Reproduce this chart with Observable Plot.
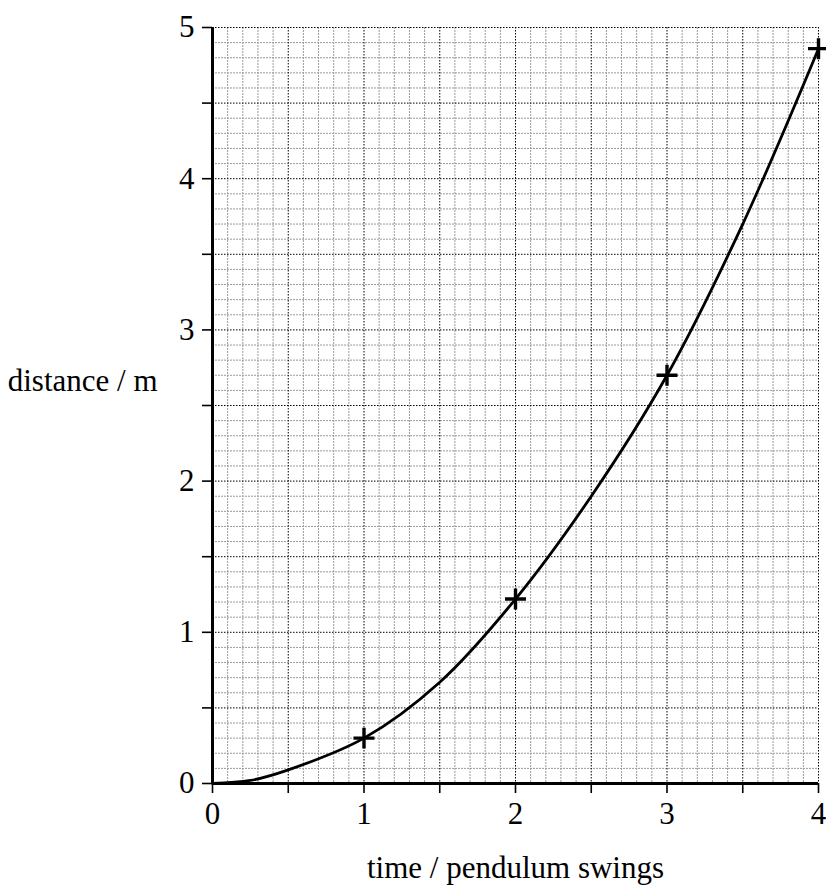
<!DOCTYPE html>
<html>
<head>
<meta charset="utf-8">
<script src="https://cdn.jsdelivr.net/npm/d3@7"></script>
<script src="https://cdn.jsdelivr.net/npm/@observablehq/plot@0.6"></script>
<style>
  html, body { margin: 0; padding: 0; background: #fff; }
  #chart svg, #chart svg text { font-family: "Liberation Serif", "Times New Roman", serif !important; }
  #chart svg [aria-label^="x-axis"] text, #chart svg [aria-label^="y-axis"] text { font-size: 31px; }
  #chart svg [aria-label^="x-axis"] line, #chart svg [aria-label^="x-axis"] path,
  #chart svg [aria-label^="y-axis"] line, #chart svg [aria-label^="y-axis"] path { stroke-width: 1.6px; }
</style>
</head>
<body>
<div id="chart"></div>
<script>
// Measured points (crosses)
const pointTime = [1, 2, 3, 4];
const pointDistance = [0.3, 1.22, 2.7, 4.86];

// Smooth curve
const curveTime = [0, 0.25, 0.5, 1, 1.5, 2, 2.5, 3, 3.5, 4];
const curveDistance = [0, 0.02, 0.09, 0.3, 0.67, 1.22, 1.9, 2.7, 3.7, 4.86];

// Axis ticks / labels
const xTickValues = [0, 0.5, 1, 1.5, 2, 2.5, 3, 3.5, 4];
const yTickValues = [0, 0.5, 1, 1.5, 2, 2.5, 3, 3.5, 4, 4.5, 5];
const xMinorGrid = d3.range(0, 41).map(i => i / 10).filter(v => Math.round(v * 10) % 5 !== 0);
const yMinorGrid = d3.range(0, 51).map(i => i / 10).filter(v => Math.round(v * 10) % 5 !== 0);
const xMajorGrid = xTickValues.filter(v => v > 0);
const yMajorGrid = yTickValues.filter(v => v > 0);

const xLabel = "time / pendulum swings";
const yLabel = "distance / m";

const points = pointTime.map((t, i) => ({t, d: pointDistance[i]}));
const curve = curveTime.map((t, i) => ({t, d: curveDistance[i]}));

const serif = "'Liberation Serif', 'Times New Roman', serif";

const chart = Plot.plot({
  width: 826,
  height: 887,
  marginTop: 27,
  marginBottom: 104,
  marginLeft: 212,
  marginRight: 8,
  style: {fontFamily: serif, fontSize: "31px", color: "#000", background: "#fff"},
  x: {domain: [0, 4], ticks: xTickValues, tickFormat: d => Number.isInteger(d) ? String(d) : "", tickSize: 10, tickPadding: 8, label: null},
  y: {domain: [0, 5], ticks: yTickValues, tickFormat: d => Number.isInteger(d) ? String(d) : "", tickSize: 10, tickPadding: 8, label: null},
  marks: [
    Plot.ruleX(xMinorGrid, {stroke: "#9a9a9a", strokeWidth: 1, strokeDasharray: "2,1"}),
    Plot.ruleY(yMinorGrid, {stroke: "#9a9a9a", strokeWidth: 1, strokeDasharray: "2,1"}),
    Plot.ruleX(xMajorGrid, {stroke: "#000", strokeWidth: 1, strokeDasharray: "1.5,1.5"}),
    Plot.ruleY(yMajorGrid, {stroke: "#000", strokeWidth: 1, strokeDasharray: "1.5,1.5"}),
    Plot.ruleX([0], {stroke: "#000", strokeWidth: 3}),
    Plot.ruleY([0], {stroke: "#000", strokeWidth: 3}),
    Plot.line(curve, {x: "t", y: "d", curve: "catmull-rom", stroke: "#000", strokeWidth: 2.8}),
    Plot.dot(points, {x: "t", y: "d", symbol: "plus", r: 6.8, stroke: "#000", strokeWidth: 3.4}),
    Plot.text([yLabel], {frameAnchor: "left", text: d => d, textAnchor: "end", dx: -55, dy: -24, fill: "#000", fontSize: 31, fontFamily: serif}),
    Plot.text([xLabel], {frameAnchor: "bottom", text: d => d, textAnchor: "middle", lineAnchor: "bottom", dy: 94, fill: "#000", fontSize: 31, fontFamily: serif})
  ]
});
document.getElementById("chart").appendChild(chart);
</script>
</body>
</html>
